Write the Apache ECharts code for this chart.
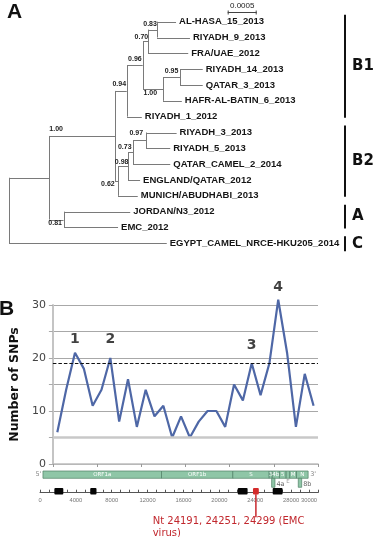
<!DOCTYPE html>
<html><head><meta charset="utf-8">
<script src="https://cdn.jsdelivr.net/npm/echarts@6/dist/echarts.min.js"></script>
<style>html,body{margin:0;padding:0;background:#fff}#c{width:374px;height:537px}</style>
</head><body><div id="c"></div>
<script>
// ---------- Panel A: phylogenetic tree ----------
const leafNames = ['AL-HASA_15_2013','RIYADH_9_2013','FRA/UAE_2012','RIYADH_14_2013','QATAR_3_2013','HAFR-AL-BATIN_6_2013','RIYADH_1_2012','RIYADH_3_2013','RIYADH_5_2013','QATAR_CAMEL_2_2014','ENGLAND/QATAR_2012','MUNICH/ABUDHABI_2013','JORDAN/N3_2012','EMC_2012','EGYPT_CAMEL_NRCE-HKU205_2014'];
// cumulative distance from root, in units of 1e-4 substitutions/site
const leafDepth = [28.8, 31.2, 30.9, 33.4, 33.4, 29.8, 22.9, 28.9, 27.8, 27.8, 22.6, 22.2, 20.9, 18.8, 27.2];
const nodeNames = ['n83','n70','n95','n100a','n96','n94','n97','n73','n98','n62','nB','nA','nIn','root'];
const nodeDepth = [25.6, 24.0, 29.5, 26.6, 23.05, 20.3, 23.7, 21.4, 20.6, 18.8, 18.3, 9.4, 6.95, 0];
const nodeKids = [
  ['AL-HASA_15_2013','RIYADH_9_2013'],
  ['n83','FRA/UAE_2012'],
  ['RIYADH_14_2013','QATAR_3_2013'],
  ['n95','HAFR-AL-BATIN_6_2013'],
  ['n70','n100a'],
  ['n96','RIYADH_1_2012'],
  ['RIYADH_3_2013','RIYADH_5_2013'],
  ['n97','QATAR_CAMEL_2_2014'],
  ['n73','ENGLAND/QATAR_2012'],
  ['n98','MUNICH/ABUDHABI_2013'],
  ['n94','n62'],
  ['JORDAN/N3_2012','EMC_2012'],
  ['nB','nA'],
  ['nIn','EGYPT_CAMEL_NRCE-HKU205_2014']
];
const nodeSupport = ['0.83','0.70','0.95','1.00','0.96','0.94','0.97','0.73','0.98','0.62','1.00','0.81','',''];
const scaleBarLength = 5; // 0.0005
const scaleBarText = '0.0005';
const cladeNames = ['B1','B2','A','C'];
const cladeFirst = [0, 7, 12, 14];
const cladeLast = [6, 11, 13, 14];

// ---------- Panel B: SNP counts per 1000-nt window ----------
const snpCounts = [6,14,21,18,11,14,20,8,16,7,14,9,11,5,9,5,8,10,10,7,15,12,19,13,19,31,21,7,17,11];
const snpThreshold = 19.1;
const peakIndex = [2, 6, 22, 25];
const peakNames = ['1','2','3','4'];

// ---------- Genome map ----------
const geneNames = ['ORF1a','ORF1b','S','3','4b','5','','M','N'];
const geneStart = [330, 13550, 21500, 25560, 25900, 26700, 27450, 27850, 28600];
const geneEnd   = [13550, 21500, 25560, 25900, 26700, 27450, 27850, 28600, 29900];
const subGeneNames = ['4a','8b'];
const subGeneStart = [25830, 28800];
const subGeneEnd   = [26200, 29180];
const hotspotStart = [1600, 5600, 22050, 25950];
const hotspotEnd   = [2600, 6300, 23150, 27050];
const emcStart = 23750, emcEnd = 24400;
const emcNote = ['Nt 24191, 24251, 24299 (EMC', 'virus)'];
const genomeLabels = [0,4000,8000,12000,16000,20000,24000,28000,30000];

// ---------- build tree geometry ----------
const depth = {}, yPos = {}, parentOf = {};
leafNames.forEach((n, i) => { depth[n] = leafDepth[i]; yPos[n] = i; });
nodeNames.forEach((n, i) => {
  depth[n] = nodeDepth[i];
  const ys = nodeKids[i].map(k => yPos[k]);
  yPos[n] = (Math.min(...ys) + Math.max(...ys)) / 2;
  nodeKids[i].forEach(k => parentOf[k] = n);
});
const treeSegs = [];
nodeNames.forEach((n, i) => {
  const ys = nodeKids[i].map(k => yPos[k]);
  treeSegs.push([depth[n], Math.min(...ys), depth[n], Math.max(...ys)]);
  nodeKids[i].forEach(k => treeSegs.push([depth[n], yPos[k], depth[k], yPos[k]]));
});
// style: placement of support values relative to node (or its parent)
const supportPlace = {n83:['end',-0.6,-6], n70:['end',0,-4.8], n95:['end',-1.7,-6.3], n100a:['start',0.8,3.6],
  n96:['end',-1,-5.8], n94:['end',-0.7,-6.7], n97:['end',-3.4,-7], n73:['end',-1.6,-5.4], n98:['end',0,-3.6],
  n62:['end',-3.3,2.8], nB:['start',0,-6.5], nA:['end',-1.6,3.8]};
const peakLabelDy = [-13, -19, -18, -12];

const TREE_LINE = '#7a7a7a';
const R = v => Math.round(v) + 0.5;

const chart = echarts.init(document.getElementById('c'));
const option = {
  animation: false,
  textStyle: {fontFamily: 'Liberation Sans'},
  grid: [
    {left: 9, top: 21.7, width: 348, height: 221.6},
    {left: 40, top: 305, width: 278, height: 159},
    {left: 40, top: 468, width: 278, height: 24.7}
  ],
  xAxis: [
    {gridIndex: 0, type: 'value', min: 0, max: 60, show: false},
    {gridIndex: 1, type: 'value', min: 0, max: 30, interval: 5,
      axisLine: {show: true, lineStyle: {color: '#bdbdbd', width: 1.5}},
      axisTick: {show: true, length: 3, lineStyle: {color: '#999'}},
      axisLabel: {show: false}, splitLine: {show: false}},
    {gridIndex: 2, type: 'value', min: 0, max: 31000,
      axisLine: {show: true, onZero: false, lineStyle: {color: '#555', width: 1}},
      axisTick: {show: true, inside: true, length: 3, customValues: Array.from({length: 32}, (_, i) => i * 1000), lineStyle: {color: '#555'}},
      axisLabel: {show: true, customValues: genomeLabels, formatter: v => String(v), hideOverlap: false, fontSize: 5.8, color: '#777', margin: 5, fontFamily: 'Liberation Sans'},
      splitLine: {show: false}}
  ],
  yAxis: [
    {gridIndex: 0, type: 'value', min: 0, max: 14, inverse: true, show: false},
    {gridIndex: 1, type: 'value', min: 0, max: 30, interval: 5,
      name: 'Number of SNPs', nameLocation: 'middle', nameGap: 24, nameRotate: 90,
      nameTextStyle: {fontFamily: 'DejaVu Sans', fontWeight: 'bold', fontSize: 12.5, color: '#111'},
      axisLine: {show: true, lineStyle: {color: '#c4c4c4', width: 2}},
      axisTick: {show: true, length: 4, lineStyle: {color: '#aaa'}},
      axisLabel: {formatter: v => (v % 10 === 0 ? String(v) : ''), fontSize: 11, color: '#444', margin: 7, fontFamily: 'DejaVu Sans'},
      splitLine: {show: true, lineStyle: {color: '#a8a8a8', width: 1.2}}},
    {gridIndex: 2, type: 'value', min: 0, max: 1, show: false}
  ],
  series: [
    { // tree branches
      type: 'custom', xAxisIndex: 0, yAxisIndex: 0, clip: false, silent: true,
      data: treeSegs,
      renderItem: (p, api) => {
        const a = api.coord([api.value(0), api.value(1)]);
        const b = api.coord([api.value(2), api.value(3)]);
        let s;
        if (Math.abs(a[0] - b[0]) < 0.01) s = {x1: R(a[0]), y1: a[1], x2: R(a[0]), y2: b[1]};
        else s = {x1: R(a[0]) - 0.5, y1: R(a[1]), x2: b[0], y2: R(b[1])};
        return {type: 'line', shape: s, style: {stroke: TREE_LINE, lineWidth: 1}};
      }
    },
    { // leaf labels
      type: 'custom', xAxisIndex: 0, yAxisIndex: 0, clip: false, silent: true,
      data: leafNames.map((n, i) => [leafDepth[i], i, i]),
      renderItem: (p, api) => {
        const c = api.coord([api.value(0), api.value(1)]);
        return {type: 'text', x: c[0] + 3, y: c[1], style: {text: leafNames[api.value(2)], font: 'bold 9.5px "Liberation Sans"', fill: '#151515', align: 'left', verticalAlign: 'middle'}};
      }
    },
    { // support values
      type: 'custom', xAxisIndex: 0, yAxisIndex: 0, clip: false, silent: true,
      data: nodeNames.map((n, i) => [depth[n], yPos[n], i]).filter(d => nodeSupport[d[2]] !== ''),
      renderItem: (p, api) => {
        const i = api.value(2), n = nodeNames[i], pl = supportPlace[n];
        const own = api.coord([depth[n], yPos[n]]);
        const x = pl[0] === 'end' ? own[0] + pl[1] : api.coord([depth[parentOf[n]], yPos[n]])[0] + pl[1];
        return {type: 'text', x: x, y: own[1] + pl[2], style: {text: nodeSupport[i], font: 'bold 7px "Liberation Sans"', fill: '#222', align: pl[0] === 'end' ? 'right' : 'left', verticalAlign: 'middle'}};
      }
    },
    { // scale bar
      type: 'custom', xAxisIndex: 0, yAxisIndex: 0, clip: false, silent: true,
      data: [[0, 0, scaleBarLength]],
      renderItem: (p, api) => {
        const len = api.coord([api.value(2), 0])[0] - api.coord([0, 0])[0];
        const x0 = 227.7, y0 = 12.5;
        return {type: 'group', children: [
          {type: 'line', shape: {x1: x0, y1: y0, x2: x0 + len, y2: y0}, style: {stroke: '#444', lineWidth: 1}},
          {type: 'line', shape: {x1: x0 + 0.5, y1: y0 - 2, x2: x0 + 0.5, y2: y0 + 2}, style: {stroke: '#444', lineWidth: 1}},
          {type: 'line', shape: {x1: x0 + len - 0.5, y1: y0 - 2, x2: x0 + len - 0.5, y2: y0 + 2}, style: {stroke: '#444', lineWidth: 1}},
          {type: 'text', x: x0 + len / 2, y: y0 - 3, style: {text: scaleBarText, font: '8px "Liberation Sans"', fill: '#222', align: 'center', verticalAlign: 'bottom'}}
        ]};
      }
    },
    { // clade bars
      type: 'custom', xAxisIndex: 0, yAxisIndex: 0, clip: false, silent: true,
      data: cladeNames.map((c, i) => [cladeFirst[i], cladeLast[i], i]),
      renderItem: (p, api) => {
        const i = api.value(2);
        const y1 = api.coord([0, api.value(0)])[1] - 7;
        const y2 = api.coord([0, api.value(1)])[1] + (i === 3 ? 8 : 1);
        return {type: 'group', children: [
          {type: 'rect', shape: {x: 344, y: y1, width: 2, height: y2 - y1}, style: {fill: '#111'}},
          {type: 'text', x: 352, y: (y1 + y2) / 2, style: {text: cladeNames[i], font: 'bold 15px "DejaVu Sans"', fill: '#111', align: 'left', verticalAlign: 'middle'}}
        ]};
      }
    },
    { // SNP line
      type: 'line', xAxisIndex: 1, yAxisIndex: 1, symbol: 'none', silent: true, clip: false,
      data: snpCounts.map((v, i) => [i + 0.5, v]),
      lineStyle: {color: '#4e67a6', width: 2.2},
      z: 3,
      markLine: {
        silent: true, symbol: 'none', label: {show: false},
        data: [
          {yAxis: snpThreshold, lineStyle: {color: '#111', type: [3.5, 2], width: 1.2}},
          {yAxis: 5, lineStyle: {color: '#c8c8c8', type: 'solid', width: 2.5}}
        ]
      }
    },
    { // peak labels
      type: 'scatter', xAxisIndex: 1, yAxisIndex: 1, symbolSize: 0, silent: true, clip: false,
      data: peakIndex.map((i, k) => ({value: [i + 0.5, snpCounts[i]], name: peakNames[k],
        label: {offset: [0, peakLabelDy[k]]}})),
      label: {show: true, position: 'inside', formatter: p => p.name, fontFamily: 'DejaVu Sans', fontWeight: 'bold', fontSize: 14, color: '#111'}
    },
    { // genome map
      type: 'custom', xAxisIndex: 2, yAxisIndex: 2, clip: false, silent: true,
      data: [].concat(
        geneNames.map((g, i) => [geneStart[i], geneEnd[i], 0, i]),
        subGeneNames.map((g, i) => [subGeneStart[i], subGeneEnd[i], 1, i]),
        hotspotStart.map((s, i) => [s, hotspotEnd[i], 2, i]),
        [[emcStart, emcEnd, 3, 0]]
      ),
      renderItem: (p, api) => {
        const s = api.coord([api.value(0), 0]), e = api.coord([api.value(1), 0]);
        const kind = api.value(2), idx = api.value(3), base = s[1];
        const w = e[0] - s[0];
        const ch = [];
        if (kind === 0) {
          ch.push({type: 'rect', shape: {x: s[0], y: base - 21.7, width: w, height: 7.3}, style: {fill: '#8fc6a7', stroke: '#4f7f66', lineWidth: 0.7}});
          if (geneNames[idx]) ch.push({type: 'text', x: s[0] + w / 2, y: base - 18, style: {text: geneNames[idx], font: '5.5px "DejaVu Sans"', fill: '#fff', align: 'center', verticalAlign: 'middle'}});
          else ch.push({type: 'text', x: s[0] + w / 2, y: base - 11, style: {text: 'E', font: '5.5px "DejaVu Sans"', fill: '#999', align: 'center', verticalAlign: 'middle'}});
          if (idx === 0) ch.push({type: 'text', x: s[0] - 1.5, y: base - 18, style: {text: "5'", font: '6.5px "DejaVu Sans"', fill: '#888', align: 'right', verticalAlign: 'middle'}});
          if (idx === geneNames.length - 1) ch.push({type: 'text', x: e[0] + 2, y: base - 18, style: {text: "3'", font: '6.5px "DejaVu Sans"', fill: '#888', align: 'left', verticalAlign: 'middle'}});
        } else if (kind === 1) {
          ch.push({type: 'rect', shape: {x: s[0], y: base - 14.4, width: w, height: 9}, style: {fill: '#8fc6a7', stroke: '#4f7f66', lineWidth: 0.7}});
          ch.push({type: 'text', x: e[0] + 1.5, y: base - 8, style: {text: subGeneNames[idx], font: '6.5px "DejaVu Sans"', fill: '#666', align: 'left', verticalAlign: 'middle'}});
        } else if (kind === 2) {
          ch.push({type: 'rect', shape: {x: s[0], y: base - 4.7, width: w, height: 6.5, r: 1}, style: {fill: '#050505'}});
        } else {
          const cx = s[0] + w / 2;
          ch.push({type: 'rect', shape: {x: s[0], y: base - 4.7, width: w, height: 6.5, r: 1}, style: {fill: '#d42b2b'}});
          ch.push({type: 'line', shape: {x1: cx, y1: base + 1.5, x2: cx, y2: base + 24.5}, style: {stroke: '#c8282e', lineWidth: 1.5}});
          ch.push({type: 'text', x: 152.7, y: base + 28.5, style: {text: emcNote[0], font: '10px "DejaVu Sans"', fill: '#c1272d', align: 'left', verticalAlign: 'middle'}});
          ch.push({type: 'text', x: 152.7, y: base + 40.5, style: {text: emcNote[1], font: '10px "DejaVu Sans"', fill: '#c1272d', align: 'left', verticalAlign: 'middle'}});
        }
        return {type: 'group', children: ch};
      }
    }
  ],
  graphic: [
    {type: 'text', left: 7, top: 2, style: {text: 'A', font: 'bold 21px "Liberation Sans"', fill: '#111'}},
    {type: 'text', left: -1, top: 299, style: {text: 'B', font: 'bold 21px "Liberation Sans"', fill: '#111'}}
  ]
};
chart.setOption(option);
</script>
</body></html>
